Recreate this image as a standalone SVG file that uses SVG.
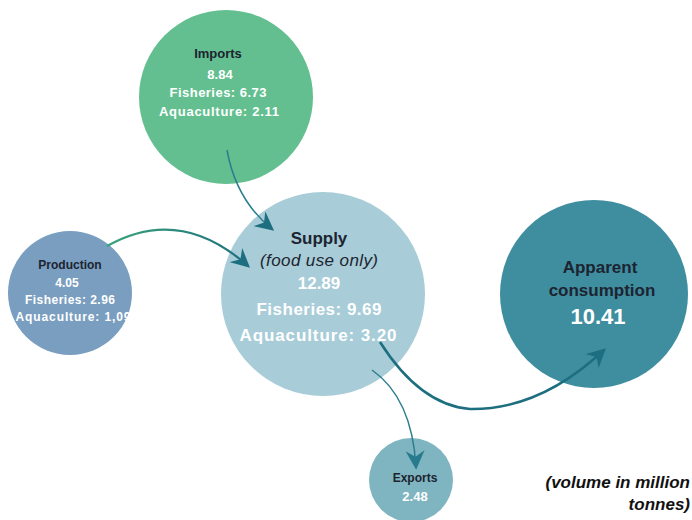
<svg xmlns="http://www.w3.org/2000/svg" width="692" height="520" viewBox="0 0 692 520">
<defs>
<marker id="ahL" viewBox="0 0 14 14" refX="12" refY="7" markerWidth="19" markerHeight="19" markerUnits="userSpaceOnUse" orient="auto">
<path d="M0,0 L14,7 L0,14 L4.5,7 Z" fill="#1d6f80"/>
</marker>
<marker id="ahE" viewBox="0 0 14 14" refX="12" refY="7" markerWidth="19" markerHeight="19" markerUnits="userSpaceOnUse" orient="auto">
<path d="M0,0 L14,7 L0,14 L4.5,7 Z" fill="#287b8c"/>
</marker>
<linearGradient id="gp" x1="0" y1="0" x2="1" y2="0">
<stop offset="0" stop-color="#3aa37a"/>
<stop offset="1" stop-color="#1d6f80"/>
</linearGradient>
<style>
text{font-family:"Liberation Sans",Arial,sans-serif;text-anchor:middle;font-weight:bold}
.dk{fill:#1c2430}
.wh{fill:#ffffff}
.it{font-style:italic;font-weight:normal}
.nt{text-anchor:end;font-style:italic;fill:#111111}
</style>
</defs>
<rect width="692" height="520" fill="#ffffff"/>
<g id="imports">
<circle cx="226" cy="97" r="87" fill="#63bf90"/>
<text x="218" y="58" font-size="13" class="dk">Imports</text>
<text x="220" y="79" font-size="13" class="wh">8.84</text>
<text x="218" y="97" font-size="13" textLength="97" class="wh">Fisheries:  6.73</text>
<text x="219" y="116" font-size="13" textLength="120" class="wh">Aquaculture:   2.11</text>
</g>
<g id="production">
<circle cx="70" cy="293" r="62" fill="#7a9ec0"/>
<text x="70" y="269" font-size="12" class="dk">Production</text>
<text x="67" y="287" font-size="12" class="wh">4.05</text>
<text x="70" y="304" font-size="12" textLength="90" class="wh">Fisheries: 2.96</text>
<text x="73" y="321" font-size="12" textLength="115" class="wh">Aquaculture: 1,09</text>
</g>
<g id="supply">
<circle cx="323" cy="294" r="102" fill="#a8ccd8"/>
<text x="319" y="244" font-size="17" class="dk">Supply</text>
<text x="319" y="266" font-size="17" textLength="118" class="dk it">(food use only)</text>
<text x="319" y="289" font-size="17" class="wh">12.89</text>
<text x="319" y="315" font-size="17" textLength="125" class="wh">Fisheries: 9.69</text>
<text x="318" y="341" font-size="17" textLength="157" class="wh">Aquaculture: 3.20</text>
</g>
<g id="consumption">
<circle cx="594" cy="294" r="94" fill="#3f8ea0"/>
<text x="600" y="273" font-size="17" class="dk">Apparent</text>
<text x="602" y="296" font-size="17" class="dk">consumption</text>
<text x="598" y="324" font-size="22" class="wh">10.41</text>
</g>
<g id="exports">
<circle cx="411" cy="480" r="42" fill="#7fb4c1"/>
<text x="415" y="482" font-size="12" class="dk">Exports</text>
<text x="415" y="501" font-size="13" class="wh">2.48</text>
</g>
<g id="note">
<text x="690" y="488" font-size="17" class="nt">(volume in million</text>
<text x="690" y="510" font-size="17" class="nt">tonnes)</text>
</g>
<g id="connectors" fill="none">
<path d="M227,150 Q236,200 272,229" stroke="#2a7d8e" stroke-width="1.5" marker-end="url(#ahL)"/>
<path d="M107,246 Q180,205 248,266" stroke="url(#gp)" stroke-width="2.2" marker-end="url(#ahL)"/>
<path d="M380,342 Q420,405 470,409 Q540,410 604,350" stroke="#1d6f80" stroke-width="2.5" marker-end="url(#ahL)"/>
<path d="M372,370 Q412,398 416,467" stroke="#2a7d8e" stroke-width="1.5" marker-end="url(#ahE)"/>
</g>
</svg>
